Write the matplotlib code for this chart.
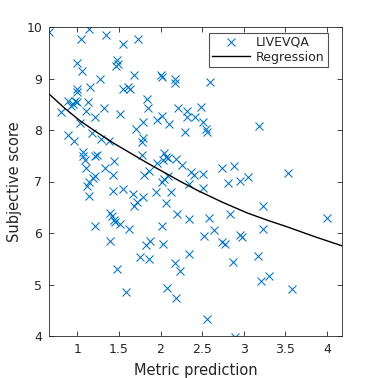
import numpy as np
import matplotlib
matplotlib.use("Agg")
from matplotlib import pyplot as plt

# scatter values (metric prediction, subjective score)
metric = [0.666, 1.144, 1.050, 1.341, 1.555, 1.731, 1.002, 1.062, 1.477, 1.483,
          1.468, 1.687, 1.275, 1.155, 1.555, 1.605, 1.633, 1.000, 1.000, 0.894,
          0.976, 0.993, 0.952, 0.924, 1.134, 0.804, 1.104, 1.215, 1.315, 1.510,
          1.038, 1.785, 1.711, 0.885, 0.966, 1.174, 1.281, 1.379, 1.785, 1.777,
          1.843, 1.849, 2.001, 2.019, 2.169, 2.176, 2.599, 2.017, 1.963, 2.107,
          2.205, 2.317, 2.323, 2.415, 2.491, 2.515, 2.549, 2.555, 2.297, 3.185,
          1.074, 1.072, 1.092, 1.102, 1.216, 1.239, 1.439, 1.333, 1.425, 1.218,
          1.188, 1.146, 1.116, 1.140, 1.773, 1.807, 1.857, 1.954, 2.044, 2.065,
          2.029, 2.095, 2.185, 2.261, 2.371, 2.407, 2.509, 2.743, 2.885, 2.815,
          2.956, 3.053, 3.533, 2.513, 2.337, 2.023, 2.047, 2.095, 1.425, 1.555,
          1.665, 1.785, 1.723, 1.687, 1.951, 2.131, 2.067, 2.203, 2.345, 2.585,
          2.839, 3.233, 4.000, 1.393, 1.417, 1.435, 1.456, 1.513, 1.216, 1.627,
          2.017, 2.647, 3.233, 2.525, 2.953, 2.974, 2.741, 2.771, 1.393, 1.873,
          1.831, 2.029, 2.345, 1.756, 1.867, 1.471, 1.591, 2.176, 2.239, 2.077,
          2.188, 2.559, 2.873, 2.899, 3.175, 3.205, 3.305, 3.583]
score = [9.91, 9.97, 9.77, 9.84, 9.67, 9.77, 9.30, 9.15, 9.36, 9.29,
         9.24, 9.06, 8.99, 8.84, 8.80, 8.84, 8.80, 8.80, 8.74, 8.57,
         8.57, 8.54, 8.51, 8.46, 8.55, 8.34, 8.37, 8.26, 8.42, 8.32,
         8.13, 8.16, 8.02, 7.91, 7.79, 7.95, 7.83, 7.79, 7.84, 7.76,
         8.60, 8.42, 9.06, 9.02, 9.00, 8.91, 8.93, 8.27, 8.20, 8.12,
         8.42, 8.36, 8.26, 8.25, 8.45, 8.16, 8.01, 7.96, 7.97, 8.08,
         7.58, 7.49, 7.41, 7.27, 7.49, 7.51, 7.40, 7.27, 7.12, 7.10,
         7.07, 6.99, 6.92, 6.71, 7.51, 7.12, 7.20, 7.36, 7.56, 7.47,
         7.41, 7.45, 7.43, 7.33, 7.18, 7.12, 7.15, 7.27, 7.31, 6.98,
         7.01, 7.08, 7.17, 6.88, 6.96, 6.99, 7.04, 7.10, 6.82, 6.86,
         6.76, 6.70, 6.60, 6.52, 6.80, 6.80, 6.58, 6.36, 6.28, 6.29,
         6.36, 6.53, 6.30, 6.38, 6.33, 6.26, 6.21, 6.17, 6.13, 6.08,
         6.13, 6.06, 6.08, 5.95, 5.96, 5.93, 5.83, 5.78, 5.84, 5.85,
         5.77, 5.79, 5.59, 5.54, 5.49, 5.31, 4.85, 5.42, 5.26, 4.94,
         4.73, 4.33, 5.44, 3.99, 5.56, 5.07, 5.17, 4.92]

# regression curve, read at a few x positions
reg_x = [0.66, 0.85, 1.04, 1.24, 1.44, 1.64, 1.84, 2.04, 2.24, 2.44,
         2.74, 3.04, 3.28, 3.52, 3.85, 4.18]
reg_y = [8.70, 8.42, 8.17, 7.95, 7.74, 7.55, 7.36, 7.18, 7.00, 6.83,
         6.60, 6.39, 6.25, 6.12, 5.93, 5.75]

xticks = [1, 1.5, 2, 2.5, 3, 3.5, 4]
xticklabels = ['1', '1.5', '2', '2.5', '3', '3.5', '4']
yticks = [4, 5, 6, 7, 8, 9, 10]

dark = '#262626'
plt.rcParams['font.family'] = ['DejaVu Sans']

fig = plt.figure(figsize=(3.78, 3.78), dpi=100)
ax = fig.add_axes([49/378, 42/378, 293/378, 309/378])

ax.plot(metric, score, 'x', color='#0072BD', markersize=6, mew=0.75, label='LIVEVQA')
ax.plot(reg_x, reg_y, '-', color='black', lw=1.0, label='Regression')

ax.set_xlim(0.66, 4.18)
ax.set_ylim(4, 10)
ax.set_xticks(xticks)
ax.set_xticklabels(xticklabels)
ax.set_yticks(yticks)
ax.tick_params(direction='in', length=3.5, width=0.6, top=True, right=True,
               colors=dark, labelsize=9, pad=5)
for s in ax.spines.values():
    s.set_color(dark)
    s.set_linewidth(0.6)

ax.set_xlabel('Metric prediction', fontsize=10.5, color=dark, labelpad=5)
ax.set_ylabel('Subjective score', fontsize=10.5, color=dark, labelpad=3)

leg = ax.legend(loc='upper right', bbox_to_anchor=(0.952, 0.981), fontsize=9,
                frameon=True, fancybox=False, handlelength=3.0, borderaxespad=0,
                handletextpad=0.5, borderpad=0.25, labelspacing=0.15)
leg.get_frame().set_edgecolor(dark)
leg.get_frame().set_linewidth(0.8)
for t in leg.get_texts():
    t.set_color(dark)

fig.savefig('out.png', dpi=100)
